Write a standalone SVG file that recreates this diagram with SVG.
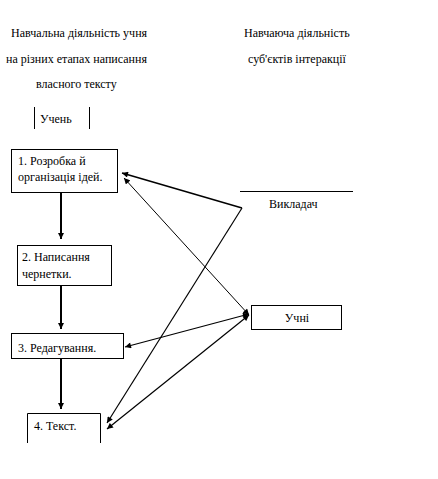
<svg xmlns="http://www.w3.org/2000/svg" width="438" height="479" viewBox="0 0 438 479">
<style>
text{font-family:"Liberation Serif","Times New Roman",serif;font-size:12px;fill:#000}
.box{fill:#fff;stroke:#000;stroke-width:1}
.ln{stroke:#000;fill:none}
</style>
<defs>
<marker id="ah" viewBox="0 0 10 10" refX="10" refY="5" markerWidth="7" markerHeight="6" markerUnits="userSpaceOnUse" orient="auto-start-reverse">
<path d="M0,0 L10,5 L0,10 z" fill="#000"/>
</marker>
</defs>
<rect width="438" height="479" fill="#fff"/>
<g id="headers">
<text x="11" y="37">Навчальна діяльність учня</text>
<text x="6" y="63">на різних етапах написання</text>
<text x="36" y="88">власного тексту</text>
<text x="244" y="37">Навчаюча діяльність</text>
<text x="248" y="63">суб'єктів інтеракції</text>
</g>
<g id="uchen">
<line class="ln" x1="34.5" y1="107" x2="34.5" y2="129"/>
<line class="ln" x1="89.5" y1="107" x2="89.5" y2="129"/>
<text x="40" y="123">Учень</text>
</g>
<g id="n1">
<rect class="box" x="11.5" y="149.5" width="106" height="43"/>
<text x="18" y="165">1. Розробка й</text>
<text x="18" y="181">організація ідей.</text>
</g>
<g id="n2">
<rect class="box" x="17.5" y="245.5" width="94" height="40"/>
<text x="22" y="261">2. Написання</text>
<text x="22" y="278">чернетки.</text>
</g>
<g id="n3">
<rect class="box" x="11.5" y="333.5" width="112" height="25"/>
<text x="18" y="352">3. Редагування.</text>
</g>
<g id="n4">
<path class="ln" d="M27.5,443 V413.5 H100.5 V443"/>
<text x="34" y="430">4. Текст.</text>
</g>
<g id="vykladach">
<line class="ln" x1="240" y1="191.5" x2="353" y2="191.5"/>
<text x="269" y="208">Викладач</text>
</g>
<g id="uchni">
<rect class="box" x="251.5" y="305.5" width="90" height="24"/>
<text x="297" y="322" text-anchor="middle">Учні</text>
</g>
<g id="connectors">
<line class="ln" x1="61" y1="193" x2="61" y2="239" stroke-width="2" marker-end="url(#ah)"/>
<line class="ln" x1="61" y1="286" x2="61" y2="329" stroke-width="2" marker-end="url(#ah)"/>
<line class="ln" x1="61" y1="359" x2="61" y2="409" stroke-width="2" marker-end="url(#ah)"/>
<line class="ln" x1="242" y1="208" x2="122" y2="173" stroke-width="1.5" marker-end="url(#ah)"/>
<line class="ln" x1="242" y1="208" x2="107" y2="423" stroke-width="1.2" marker-end="url(#ah)"/>
<line class="ln" x1="124" y1="178" x2="249" y2="315" stroke-width="1" marker-start="url(#ah)" marker-end="url(#ah)"/>
<line class="ln" x1="249" y1="314" x2="125" y2="347" stroke-width="1.2" marker-start="url(#ah)" marker-end="url(#ah)"/>
<line class="ln" x1="249" y1="315" x2="107" y2="429" stroke-width="1.2" marker-start="url(#ah)" marker-end="url(#ah)"/>
</g>
</svg>
